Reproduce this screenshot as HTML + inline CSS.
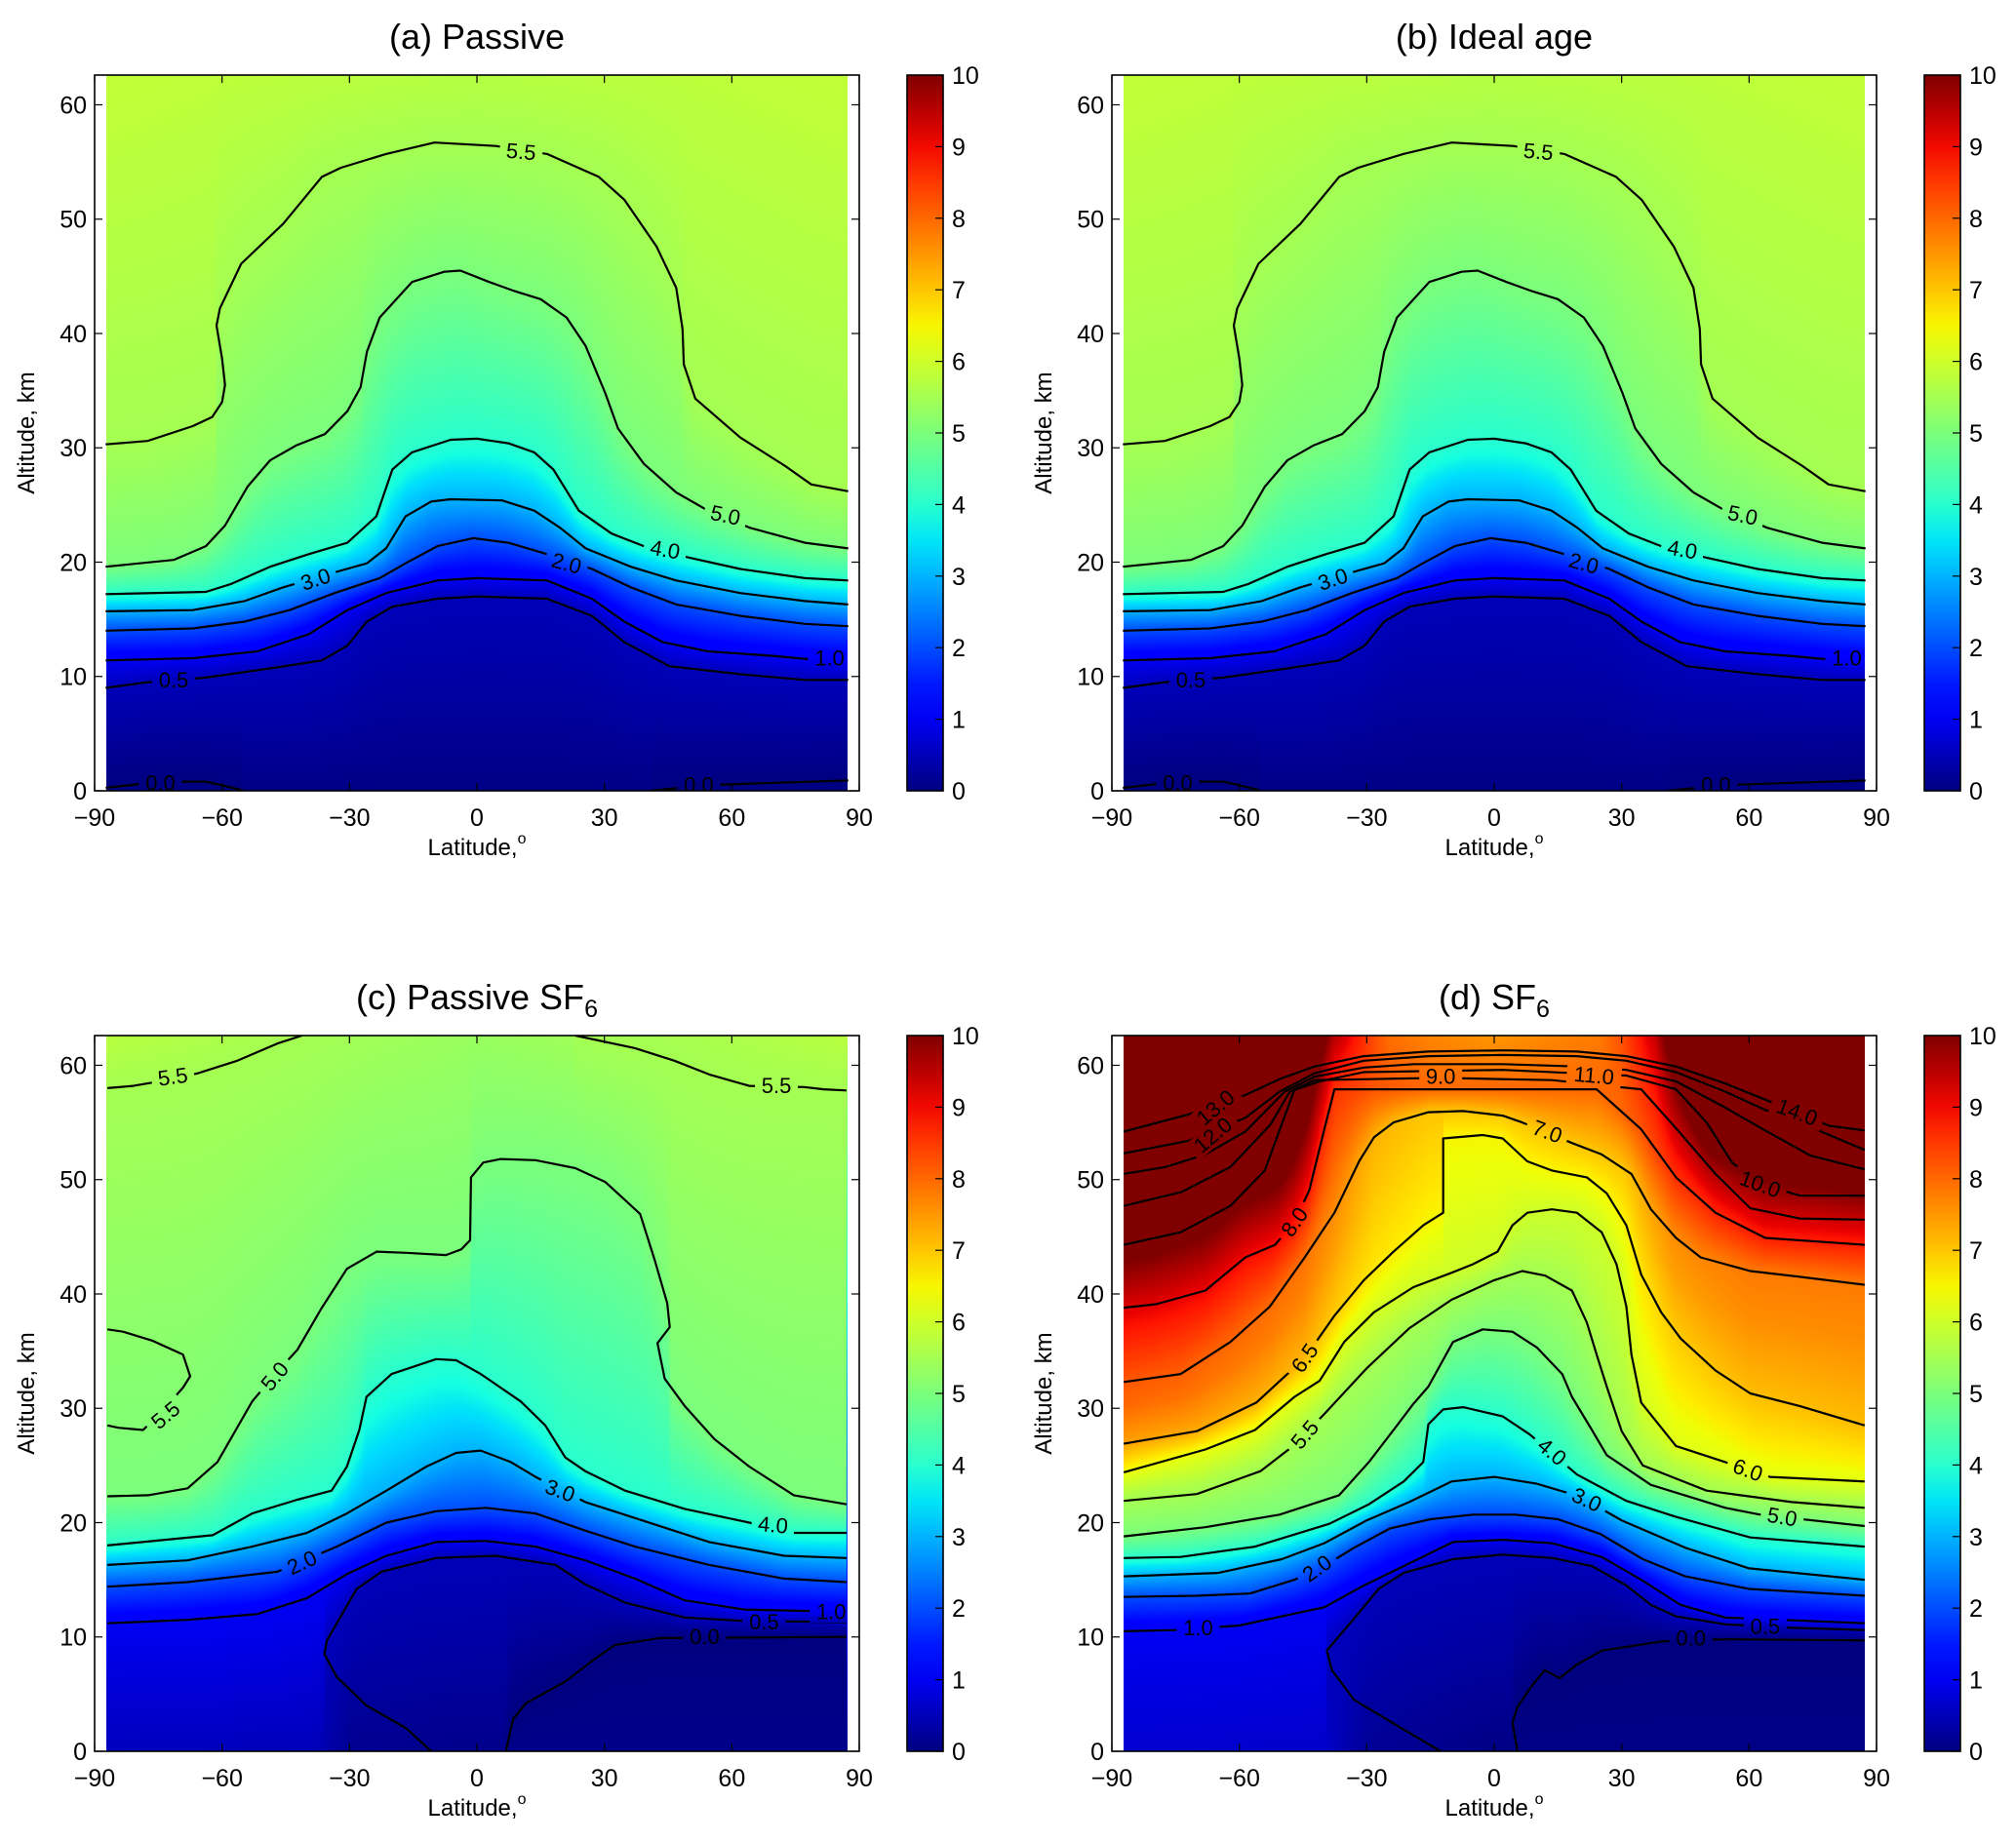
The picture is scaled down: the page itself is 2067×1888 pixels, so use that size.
<!DOCTYPE html>
<html><head><meta charset="utf-8">
<style>
body{margin:0;background:#fff;width:2067px;height:1888px;overflow:hidden;position:relative;font-family:"Liberation Sans",sans-serif}
canvas{position:absolute}
svg{position:absolute;left:0;top:0}
text{font-family:"Liberation Sans",sans-serif;fill:#000}
</style></head>
<body>
<svg id="fig" width="2067" height="1888"><defs id="defs"></defs></svg>
<script>
// ---------- shared axis data ----------
const xTicks = [-90, -60, -30, 0, 30, 60, 90];
const yTicks = [0, 10, 20, 30, 40, 50, 60];
const cbTicks = [0, 1, 2, 3, 4, 5, 6, 7, 8, 9, 10];

// ---------- panel (a) Passive ----------
const levelsA = [5.5, 5.0, 4.0, 3.0, 2.0, 1.0, 0.5, 0.0, 0.0];
const linesA = [
 [[-87.4,30.3],[-77.5,30.6],[-66.9,31.9],[-62.3,32.7],[-60,34],[-59.3,35.5],[-60,37.8],[-61.3,40.7],[-60.5,42.2],[-55.5,46.1],[-45.6,49.6],[-36.5,53.7],[-32,54.5],[-21.4,55.7],[-10,56.7],[4.4,56.4],[16.5,55.7],[28.7,53.7],[34.7,51.7],[42.3,47.6],[46.9,44],[48.4,40.4],[48.7,37.3],[51.4,34.3],[62,30.9],[72.6,28.4],[78.7,26.8],[87.4,26.2]],
 [[-87.4,19.6],[-71.4,20.2],[-63.8,21.4],[-59.3,23.2],[-54,26.6],[-48.7,28.9],[-42.6,30.2],[-35.8,31.2],[-30.5,33.2],[-27.4,35.3],[-25.9,38.4],[-22.9,41.4],[-15.3,44.5],[-7.7,45.4],[-3.9,45.5],[2.9,44.5],[8.9,43.7],[15,43],[21.1,41.4],[25.6,38.9],[30.2,34.8],[33.2,31.7],[39.3,28.6],[46.9,26.1],[54.4,24.5],[64.3,23],[77.2,21.7],[87.4,21.2]],
 [[-87.4,17.2],[-63.8,17.4],[-57.8,18.1],[-48.7,19.6],[-39.6,20.7],[-30.5,21.7],[-23.7,24],[-19.9,28.1],[-15.3,29.6],[-6.2,30.7],[0,30.8],[7.4,30.4],[13.5,29.6],[18,28.1],[24,24.5],[31.7,22.5],[39.3,21.4],[49.9,20.4],[62,19.4],[77.2,18.6],[87.4,18.4]],
 [[-87.4,15.7],[-66.9,15.8],[-54.7,16.6],[-45.6,17.8],[-33.5,19.1],[-25.9,19.9],[-21.4,21.2],[-16.8,24],[-10.8,25.3],[-6.2,25.5],[5.9,25.4],[13.5,24.5],[19.6,23],[25.6,21.2],[36.2,19.6],[46.9,18.4],[62,17.3],[77.2,16.6],[87.4,16.3]],
 [[-87.4,14],[-66.9,14.2],[-54.7,14.8],[-44.1,15.8],[-33.5,17.3],[-22.9,18.6],[-16.8,19.9],[-9.3,21.4],[-0.9,22.1],[7.4,21.7],[16.5,20.7],[27.1,19.4],[36.2,17.8],[46.9,16.3],[62,15.3],[77.2,14.6],[87.4,14.4]],
 [[-87.4,11.4],[-66.9,11.6],[-51.7,12.2],[-39.6,13.7],[-30.5,15.8],[-21.4,17.3],[-9.3,18.4],[0,18.6],[16.5,18.4],[27.1,16.8],[34.7,14.8],[43.8,13],[54.4,12.2],[69.6,11.8],[87.4,11.2]],
 [[-87.4,9],[-77.5,9.5],[-63.8,9.9],[-48.7,10.7],[-36.5,11.4],[-30.5,12.7],[-25.9,14.8],[-19.9,16.1],[-9.3,16.8],[0,17],[16.5,16.8],[27.1,15.3],[34.7,13],[45.3,10.9],[62,10.2],[77.2,9.7],[87.4,9.7]],
 [[-87.4,0.26],[-74.5,0.8],[-63.8,0.8],[-56.3,0.15],[-55,0]],
 [[40.8,0],[54.4,0.5],[70,0.7],[87.4,0.9]]
];
const labelsA = [["5.5",10.4,55.9,5],["5.0",58.5,24.1,12],["4.0",44.3,21.1,10],["2.0",21.1,19.9,15],["3.0",-38,18.5,-18],["1.0",83,11.6,0],["0.5",-71.4,9.7,0],["0.0",-74.5,0.7,0],["0.0",52.2,0.5,0]];
const topA = [[-90,5.85],[0,5.7],[90,5.85]];
const botA = [[-90,0.05],[90,0.05]];
const boostA = [[-90,0],[90,0]];

// ---------- panel (b) Ideal age (visually identical to a) ----------
const levelsB = levelsA.slice();
const linesB = linesA.map(l => l.map(p => p.slice()));
const labelsB = labelsA.map(l => l.slice());
const topB = [[-90,5.85],[0,5.7],[90,5.85]];
const botB = [[-90,0.05],[90,0.05]];
const boostB = [[-90,0],[90,0]];

// ---------- panel (c) Passive SF6 ----------
const levelsC = [5.5, 5.5, 5.5, 5.0, 4.0, 3.0, 2.0, 1.0, 0.5, 0.0];
const linesC = [
 [[-87,58],[-80.9,58.2],[-73,58.7],[-65.7,59.3],[-56.4,60.4],[-47,61.9],[-41.2,62.6]],
 [[23.2,62.6],[37.2,61.5],[46.5,60.4],[54.7,59.2],[64.1,58.2],[77,58.1],[81.6,57.9],[87,57.8]],
 [[-87,36.9],[-83.3,36.7],[-76.3,35.9],[-69.2,34.7],[-67.5,32.8],[-69.2,31.8],[-74,29.8],[-78.6,28.1],[-84.4,28.3],[-87,28.5]],
 [[-87,22.3],[-77.4,22.4],[-68.1,23],[-61.1,25.3],[-52.9,30.6],[-47.5,33],[-42.3,35.1],[-36.5,38.8],[-30.6,42.2],[-23.6,43.7],[-16.6,43.6],[-7.3,43.4],[-3.7,43.9],[-1.6,44.7],[-1.4,50.2],[1.5,51.5],[5.6,51.8],[13.8,51.7],[23.2,51],[30.2,49.8],[34.9,48.2],[38.4,47],[41.9,42.9],[44.8,39.2],[45.4,37.1],[42.5,35.7],[44.2,32.6],[48.9,30.2],[55.9,27.3],[64.1,24.9],[74.6,22.4],[87,21.6]],
 [[-87,18],[-62.2,18.9],[-52.9,20.8],[-42.3,22],[-34.2,22.8],[-30.6,24.9],[-27.7,28.1],[-26,31],[-20.1,33],[-9.6,34.3],[-4.9,34.2],[0.9,33],[5.6,31.8],[10.3,30.6],[16.1,28.5],[20.8,25.7],[25.5,24.5],[34.9,22.8],[48.9,21.2],[64.1,20],[74.6,19.1],[87,19.1]],
 [[-87,16.3],[-68.1,16.7],[-52.9,17.9],[-40,19.1],[-30.6,20.8],[-21.3,22.8],[-11.9,24.9],[-4.9,26.1],[0.9,26.3],[8,25.3],[13.8,24],[25.5,21.8],[37.2,20.4],[54.7,18.3],[72.3,17.1],[87,16.9]],
 [[-87,14.4],[-68.1,14.8],[-47,15.7],[-33,17.9],[-21.3,20],[-9.6,21],[2.1,21.3],[13.8,20.8],[25.5,19.3],[37.2,17.9],[54.7,16.3],[72.3,15.1],[87,14.8]],
 [[-87,11.2],[-68.1,11.5],[-51.7,12],[-40,13.4],[-30.6,15.5],[-21.3,17.1],[-9.6,18.3],[2.1,18.4],[13.8,17.9],[25.5,16.7],[37.2,15.1],[48.9,13.2],[62.9,12.4],[87,12.2]],
 [[-10.8,0],[-16.6,2],[-26,4],[-33,6.5],[-35.9,8.5],[-35.3,9.7],[-28.3,14.2],[-22.5,15.7],[-9.6,16.9],[4.4,17.1],[18.5,16.3],[25.5,14.6],[34.9,13],[48.9,11.7],[62.9,11.4],[87,11.3]],
 [[87,10],[43,9.9],[32.5,9.3],[27.8,8.1],[20.8,6.1],[11.5,4.2],[8.5,2.8],[6.8,0]]
];
const labelsC = [["5.5",-71.6,59,-8],["5.5",70.5,58.2,0],["5.5",-73.3,29.4,-40],["5.0",-47.6,32.8,-50],["3.0",19.6,22.8,20],["4.0",69.7,19.8,5],["2.0",-41.2,16.5,-25],["1.0",83.4,12.2,0],["0.5",67.6,11.3,0],["0.0",53.6,10,0]];
const topC = [[-90,5.75],[-40,5.5],[0,5.35],[40,5.5],[90,5.75]];
const botC = [[-90,0.55],[-38,0.5],[-30,0.15],[0,0.1],[90,0.1]];
const boostC = [[-90,0],[90,0]];

// ---------- panel (d) SF6 ----------
const levelsD = [0.0, 0.5, 1.0, 2.0, 3.0, 4.0, 5.0, 5.5, 6.0, 6.5, 7.0, 8.0, 9.0, 10.0, 11.0, 12.0, 13.0];
const linesD = [
 [[87.2,9.7],[54.4,9.8],[39.3,9.6],[25.3,8.8],[19.5,7.6],[15.4,6.4],[11.9,7.1],[9,5.8],[5.5,3.9],[4.3,2.5],[5.5,0]],
 [[-12.6,0],[-21.3,1.9],[-33,4.5],[-38.2,7.1],[-39.4,8.8],[-37.6,9.6],[-33,11.6],[-27.2,14.2],[-21.3,15.6],[-9.7,16.8],[2,17.2],[13.6,16.9],[23,16.2],[31.1,14.5],[36.9,12.8],[42.8,11.8],[54.4,11.1],[70,10.8],[87.2,10.6]],
 [[-87.2,10.5],[-75,10.6],[-60,11],[-50,11.8],[-40,12.6],[-30.7,14.5],[-21.3,16.2],[-9.7,18.3],[2,18.5],[13.6,18.2],[25.3,17],[34.6,15],[43.9,12.8],[54.4,11.7],[87.2,11.2]],
 [[-87.2,13.5],[-70,13.6],[-57.5,13.8],[-47,15],[-40,16.2],[-33,17.8],[-24.5,19.5],[-15,20.3],[-5,20.7],[5,20.7],[15,20.3],[25,19],[35,16.8],[45,15.3],[60,14.2],[87.2,13.6]],
 [[-87.2,15.3],[-65,15.6],[-50,16.8],[-40,18.2],[-30,20.2],[-20,21.8],[-10,23.6],[0,24],[10,23.4],[20,22.3],[30,20.2],[45,17.8],[60,16],[87.2,15]],
 [[-87.2,16.9],[-73.8,17],[-56.3,17.9],[-38.8,19.9],[-29.5,21.6],[-21.3,23.6],[-16.7,25.3],[-15.5,28.6],[-12,29.9],[-7.3,30.1],[2,29.3],[8.4,27.7],[19.5,24.2],[31.1,21.9],[42.8,20.5],[60.3,18.7],[87.2,17.9]],
 [[-87.2,18.8],[-68,19.6],[-50.5,20.7],[-36.5,22.4],[-29.5,25.3],[-23.7,28.1],[-19,30.4],[-15.5,31.9],[-9.7,35.8],[-2.7,36.9],[4.3,36.7],[10.1,35.3],[16,33],[18.3,31],[23,28.1],[26.5,25.9],[36.9,23.3],[54.4,21.3],[62.6,20.7],[87.2,19.7]],
 [[-87.2,21.9],[-70,22.5],[-55,24.5],[-47,26.8],[-40,29.5],[-30,33.5],[-20,37],[-10,39.5],[0,41.2],[6.6,42],[12,41.6],[18.3,40.3],[21.8,37.5],[24.1,34.7],[26.5,31.9],[30,28],[35,25],[50,22.8],[70,21.8],[87.2,21.3]],
 [[-87.2,24.4],[-68,26.4],[-56.3,28.1],[-47,31],[-41.1,32.4],[-35.3,35.8],[-28.3,38.4],[-19,40.6],[-9.7,41.9],[-5,42.6],[0.8,43.7],[4.3,46],[7.8,47.1],[13.6,47.4],[19.5,47.1],[25.3,45.4],[28.8,42.6],[31.1,38.9],[32.3,34.7],[34.6,30.5],[42.8,26.7],[54.4,25.3],[64.9,24],[87.2,23.6]],
 [[-87.2,26.9],[-70,28],[-56,30.5],[-44.6,34.4],[-37.6,38.1],[-30.7,41.2],[-23.7,43.7],[-16.7,46],[-12,47.1],[-12,53.6],[-2.7,53.9],[2,53.6],[7.8,51.6],[13.6,50.8],[21.8,50.2],[26.5,48.8],[31.1,46],[34.6,41.7],[39.3,38.4],[43.9,36.1],[52.1,33.3],[60.3,31.3],[71.9,30.2],[87.2,28.5]],
 [[-87.2,32.3],[-73.8,33],[-62.1,35.8],[-52.8,38.9],[-44.6,43.2],[-37.6,47.1],[-31.8,51.6],[-28.3,53.7],[-23.7,55],[-15.5,55.9],[-7.3,56],[2,55.6],[6.6,55],[18.3,53.2],[25.3,52.2],[32.3,50.5],[36.9,47.4],[42.8,44.9],[48.6,43.2],[60.3,42],[71.9,41.5],[87.2,40.8]],
 [[-87.2,38.8],[-79.6,39.1],[-68,40.3],[-58.6,43.2],[-51.6,44.3],[-47,46.3],[-43.5,49.1],[-40,54.4],[-37.6,57.9],[-21.3,57.9],[7.8,57.9],[24.1,57.9],[34.6,54.4],[42.8,50.2],[52.1,47.1],[63.8,44.9],[87.2,44.3]],
 [[-87.2,44.3],[-73.8,45.4],[-62.1,47.7],[-54,50.8],[-47,57.9],[-42.3,58.7],[-12.6,58.9],[13.6,58.7],[34.6,57.9],[42.8,54.5],[52.1,50.5],[60.3,47.5],[71.9,46.6],[87.2,46.5]],
 [[-87.2,47.7],[-73.7,48.9],[-62.1,51.1],[-52.7,54.8],[-48.1,57.7],[-41.1,58.6],[-30.7,59.4],[2,59.6],[31.1,59.1],[42.8,57.9],[50,55],[56,51.5],[62.6,49.6],[72,48.6],[87.2,48.6]],
 [[-87.2,50.5],[-77.4,51.1],[-68,52.2],[-58.6,54.2],[-49.3,57.7],[-42.3,59],[-30.7,59.8],[-18.9,60.1],[2,60.1],[19.5,59.9],[31.1,59.6],[42.8,58.6],[54.4,56.3],[63.8,54.3],[74.4,52.1],[87.2,50.9]],
 [[-87.2,52.3],[-72,53.4],[-58.6,55.4],[-50.5,57.7],[-42.3,59.3],[-30.7,60.4],[-15.5,60.8],[2,60.9],[19.5,60.8],[31.1,60.4],[42.8,59.4],[54.4,57.7],[63.8,56.1],[74.4,54.6],[87.2,52.6]],
 [[-87.2,54.2],[-72,55.7],[-58.6,57.4],[-50.5,58.8],[-42.3,59.9],[-30.7,60.8],[-15.5,61.2],[2,61.3],[19.5,61.2],[31.1,60.8],[42.8,59.9],[54.4,58.4],[63.8,57],[78.9,54.7],[87.2,54.3]]
];
const labelsD = [["13.0",-65.6,56.3,-40],["12.0",-66.2,53.9,-40],["9.0",-12.6,59,0],["11.0",23.5,59.1,5],["14.0",71.3,55.9,20],["7.0",12.5,54.2,20],["10.0",62.6,49.6,20],["8.0",-47,46.3,-55],["6.5",-44.6,34.4,-55],["5.5",-44.6,27.7,-50],["4.0",13.6,26.2,40],["3.0",21.8,22,25],["6.0",59.7,24.6,20],["5.0",67.8,20.5,10],["2.0",-41.7,16,-35],["1.0",-69.7,10.8,0],["0.5",63.8,10.9,0],["0.0",46.3,9.9,0]];
const topD = [[-90,13],[-50,12],[-38,9],[-25,7.8],[0,7.5],[25,7.8],[38,9],[50,12],[90,13]];
const botD = [[-90,0.7],[-40,0.65],[-30,0.2],[0,0.05],[90,0.05]];
const boostD = [[-90,1.2],[-45,0.9],[-28,0.2],[-15,0],[30,0],[42,0.6],[60,0.8],[90,0.8]];

// ---------- layout ----------
const AXW = 784, AXH = 734, YMAX = 62.6, HLAT = 87.25;
const panels = [
 {key:'a', x0:97,  y0:77,   title:'(a) Passive', sub:'', levels:levelsA, lines:linesA, labels:labelsA, top:topA, bot:botA, boost:boostA, fillMax:99, cbx:930},
 {key:'b', x0:1140,y0:77,   title:'(b) Ideal age', sub:'', levels:levelsB, lines:linesB, labels:labelsB, top:topB, bot:botB, boost:boostB, fillMax:99, cbx:1973},
 {key:'c', x0:97,  y0:1062, title:'(c) Passive SF', sub:'6', levels:levelsC, lines:linesC, labels:labelsC, top:topC, bot:botC, boost:boostC, fillMax:99, cbx:930},
 {key:'d', x0:1140,y0:1062, title:'(d) SF', sub:'6', levels:levelsD, lines:linesD, labels:labelsD, top:topD, bot:botD, boost:boostD, fillMax:8, cbx:1973}
];

function jet(v){
  let x = Math.max(0, Math.min(1, v/10));
  let r = x<0.35?0:x<0.66?(x-0.35)/0.31:x<0.89?1:1-(x-0.89)/0.11*0.5;
  let g = x<0.125?0:x<0.375?(x-0.125)/0.25:x<0.64?1:x<0.91?1-(x-0.64)/0.27:0;
  let b = x<0.11?0.5+x/0.11*0.5:x<0.34?1:x<0.65?1-(x-0.34)/0.31:0;
  return [Math.round(r*255),Math.round(g*255),Math.round(b*255)];
}
function prof(arr, lat){
  for(let i=0;i<arr.length-1;i++){
    if(lat>=arr[i][0] && lat<=arr[i+1][0]){
      const t=(lat-arr[i][0])/(arr[i+1][0]-arr[i][0]);
      return arr[i][1]+t*(arr[i+1][1]-arr[i][1]);
    }
  }
  return arr[arr.length-1][1];
}
const NS='http://www.w3.org/2000/svg';
const svg=document.getElementById('fig');
const defs=document.getElementById('defs');
function el(tag, attrs, parent){
  const e=document.createElementNS(NS,tag);
  for(const k in attrs) e.setAttribute(k, attrs[k]);
  (parent||svg).appendChild(e);
  return e;
}

const grad=el('linearGradient',{id:'jetgrad',x1:'0',y1:'1',x2:'0',y2:'0'},defs);
for(let i=0;i<=20;i++){
  const c=jet(i/2);
  el('stop',{offset:(i/20).toFixed(3),'stop-color':'rgb('+c.join(',')+')'},grad);
}

panels.forEach(P=>{
  const X = lat => P.x0 + (lat+90)/180*AXW;
  const Y = alt => P.y0 + AXH - alt/YMAX*AXH;

  // ---- heatmap ----
  const hx0 = Math.round(X(-HLAT)), hx1 = Math.round(X(HLAT));
  const cw = hx1-hx0, ch = AXH;
  const cv=document.createElement('canvas');
  cv.width=cw; cv.height=ch;
  cv.style.left=hx0+'px'; cv.style.top=P.y0+'px';
  
  
  document.body.insertBefore(cv, svg);
  const ctx=cv.getContext('2d');
  const img=ctx.createImageData(cw,ch);
  for(let px=0;px<cw;px++){
    const lat=-HLAT+(px+0.5)/cw*2*HLAT;
    const cl=Math.max(-87,Math.min(87,lat));
    const bst=prof(P.boost,lat);
    const cr=[];
    P.lines.forEach((pts,i)=>{
      const lv=P.levels[i];
      if(lv>P.fillMax) return;
      for(let j=0;j<pts.length-1;j++){
        const a=pts[j], b=pts[j+1];
        if((a[0]<=cl && b[0]>cl) || (b[0]<=cl && a[0]>cl)){
          const t=(cl-a[0])/(b[0]-a[0]);
          cr.push([a[1]+t*(b[1]-a[1]), lv]);
        }
      }
    });
    cr.sort((p,q)=>q[0]-p[0]);
    const kept=[[YMAX+0.01, prof(P.top,lat)]];
    let last=Infinity;
    cr.forEach(c=>{ if(c[1]<last){ kept.push(c); last=c[1]; } });
    kept.push([-0.01, prof(P.bot,lat)]);
    kept.reverse();
    let k=0;
    for(let py=ch-1;py>=0;py--){
      const alt=(ch-(py+0.5))/ch*YMAX;
      while(k<kept.length-2 && alt>kept[k+1][0]) k++;
      const a=kept[k], b=kept[k+1];
      const t=(alt-a[0])/(b[0]-a[0]);
      let v=a[1]+t*(b[1]-a[1]);
      if(bst>0){ const s=Math.max(0,Math.min(1,(v-5.6)/1.2)); v+=bst*s; }
      const c=jet(v);
      const o=(py*cw+px)*4;
      img.data[o]=c[0]; img.data[o+1]=c[1]; img.data[o+2]=c[2]; img.data[o+3]=255;
    }
  }
  ctx.putImageData(img,0,0);

  // ---- clip + mask for contour labels ----
  const clip=el('clipPath',{id:'clip-'+P.key},defs);
  el('rect',{x:P.x0,y:P.y0,width:AXW,height:AXH},clip);
  const mask=el('mask',{id:'mask-'+P.key,maskUnits:'userSpaceOnUse',x:0,y:0,width:2067,height:1888},defs);
  el('rect',{x:0,y:0,width:2067,height:1888,fill:'#fff'},mask);
  P.labels.forEach(L=>{
    const w=L[0].length*12+8;
    el('rect',{x:X(L[1])-w/2,y:Y(L[2])-11,width:w,height:22,fill:'#000',transform:'rotate('+L[3]+' '+X(L[1])+' '+Y(L[2])+')'},mask);
  });

  const g=el('g',{'clip-path':'url(#clip-'+P.key+')'});
  
  
  const gl=el('g',{mask:'url(#mask-'+P.key+')'},g);
  P.lines.forEach((pts,i)=>{
    const d='M'+pts.map(p=>X(p[0]).toFixed(1)+','+Y(p[1]).toFixed(1)).join('L');
    const path=el('path',{d:d,fill:'none',stroke:'#000','stroke-width':2.2,'stroke-linejoin':'round'},gl);
    
    
  });
  P.labels.forEach(L=>{
    const t=el('text',{x:X(L[1]),y:Y(L[2]),'font-size':22,'text-anchor':'middle','dominant-baseline':'central',transform:'rotate('+L[3]+' '+X(L[1])+' '+Y(L[2])+')'},g);
    t.textContent=L[0];
    
    
  });

  // ---- axes frame & ticks ----
  const frame=el('rect',{x:P.x0,y:P.y0,width:AXW,height:AXH,fill:'none',stroke:'#000','stroke-width':1.6});
  
  
  xTicks.forEach(v=>{
    const x=X(v);
    el('line',{x1:x,y1:P.y0+AXH,x2:x,y2:P.y0+AXH-8,stroke:'#000','stroke-width':1.2});
    el('line',{x1:x,y1:P.y0,x2:x,y2:P.y0+8,stroke:'#000','stroke-width':1.2});
    const t=el('text',{x:x,y:P.y0+AXH+36,'font-size':25,'text-anchor':'middle'});
    t.textContent=(v<0?'\u2212'+(-v):''+v);
    
    
  });
  yTicks.forEach(v=>{
    const y=Y(v);
    el('line',{x1:P.x0,y1:y,x2:P.x0+8,y2:y,stroke:'#000','stroke-width':1.2});
    el('line',{x1:P.x0+AXW,y1:y,x2:P.x0+AXW-8,y2:y,stroke:'#000','stroke-width':1.2});
    const t=el('text',{x:P.x0-8,y:y+9,'font-size':25,'text-anchor':'end'});
    t.textContent=''+v;
    
    
  });

  // ---- titles & axis labels ----
  const cx=P.x0+AXW/2;
  const title=el('text',{x:cx,y:P.y0-27,'font-size':36,'text-anchor':'middle'});
  title.textContent=P.title;
  if(P.sub){ const s=el('tspan',{'font-size':25,dy:8},title); s.textContent=P.sub; }
  
  
  const xl=el('text',{x:cx,y:P.y0+AXH+66,'font-size':24,'text-anchor':'middle'});
  xl.textContent='Latitude,';
  const sup=el('tspan',{'font-size':16,dy:-12},xl); sup.textContent='o';
  
  
  const yx=P.x0-62, yy=P.y0+AXH/2;
  const yl=el('text',{x:yx,y:yy,'font-size':24,'text-anchor':'middle',transform:'rotate(-90 '+yx+' '+yy+')'});
  yl.textContent='Altitude, km';
  
  

  // ---- colorbar ----
  const cb=el('rect',{x:P.cbx,y:P.y0,width:37,height:AXH,fill:'url(#jetgrad)',stroke:'#000','stroke-width':1.6});
  
  
  cbTicks.forEach(v=>{
    const y=P.y0+AXH-v/10*AXH;
    el('line',{x1:P.cbx+37,y1:y,x2:P.cbx+29,y2:y,stroke:'#000','stroke-width':1.2});
    const t=el('text',{x:P.cbx+46,y:y+9,'font-size':25});
    t.textContent=''+v;
    
    
  });
});
</script>
</body></html>
